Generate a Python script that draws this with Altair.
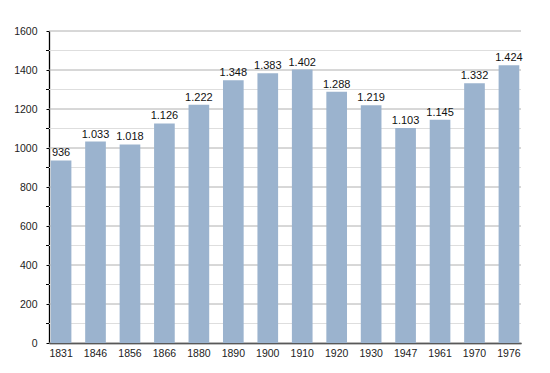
import altair as alt
import pandas as pd

years = ["1831", "1846", "1856", "1866", "1880", "1890", "1900", "1910",
         "1920", "1930", "1947", "1961", "1970", "1976"]
population = [936, 1033, 1018, 1126, 1222, 1348, 1383, 1402,
              1288, 1219, 1103, 1145, 1332, 1424]
major_ticks = [0, 200, 400, 600, 800, 1000, 1200, 1400, 1600]
minor_ticks = [100, 300, 500, 700, 900, 1100, 1300, 1500]


def fmt(v):
    return f"{v:,}".replace(",", ".")


df = pd.DataFrame({"year": years, "pop": population,
                   "label": [fmt(v) for v in population]})
major_df = pd.DataFrame({"v": major_ticks})
minor_df = pd.DataFrame({"v": minor_ticks})

FONT = "Liberation Sans"
yscale = alt.Scale(domain=[0, 1600], nice=False)
yaxis = alt.Axis(values=major_ticks, tickCount=30, labelOverlap=False, grid=False,
                 format="d", tickColor="black", tickSize=3, labelPadding=9,
                 domainColor="black", labelFont=FONT, labelFontSize=10.5,
                 labelColor="#222")

x = alt.X("year:N", sort=years, title=None,
          scale=alt.Scale(paddingInner=0.4, paddingOuter=0.05),
          axis=alt.Axis(labelAngle=0, ticks=False, domainColor="black",
                        labelFont=FONT, labelFontSize=10.5, labelColor="#222",
                        labelPadding=5))

minor_grid = alt.Chart(minor_df).mark_rule(color="#dedede", strokeWidth=1).encode(
    y=alt.Y("v:Q", scale=yscale, title=None, axis=yaxis),
    x=alt.value(0), x2=alt.value(472))
major_grid = alt.Chart(major_df).mark_rule(color="#b0b0b0", strokeWidth=1).encode(
    y=alt.Y("v:Q", scale=yscale, title=None),
    x=alt.value(0), x2=alt.value(472))
minor_tick = alt.Chart(minor_df).mark_rule(color="black", strokeWidth=1).encode(
    y=alt.Y("v:Q", scale=yscale, title=None),
    x=alt.value(-3), x2=alt.value(0))

base = alt.Chart(df)
bars = base.mark_bar(color="#9bb3ce").encode(
    x=x, y=alt.Y("pop:Q", scale=yscale, title=None))
text = base.mark_text(baseline="bottom", dy=-2, font=FONT, fontSize=11, color="#111").encode(
    x=alt.X("year:N", sort=years), y=alt.Y("pop:Q", title=None), text="label:N")

chart = alt.layer(minor_grid, major_grid, minor_tick, bars, text).properties(
    width=472, height=312,
    autosize=alt.AutoSizeParams(type="none"),
    padding={"left": 41, "top": 23, "right": 20, "bottom": 30},
).configure_view(stroke=None).configure_axis(domainWidth=1.3)

chart.save("out.html", embed_options={"renderer": "svg", "actions": False})
